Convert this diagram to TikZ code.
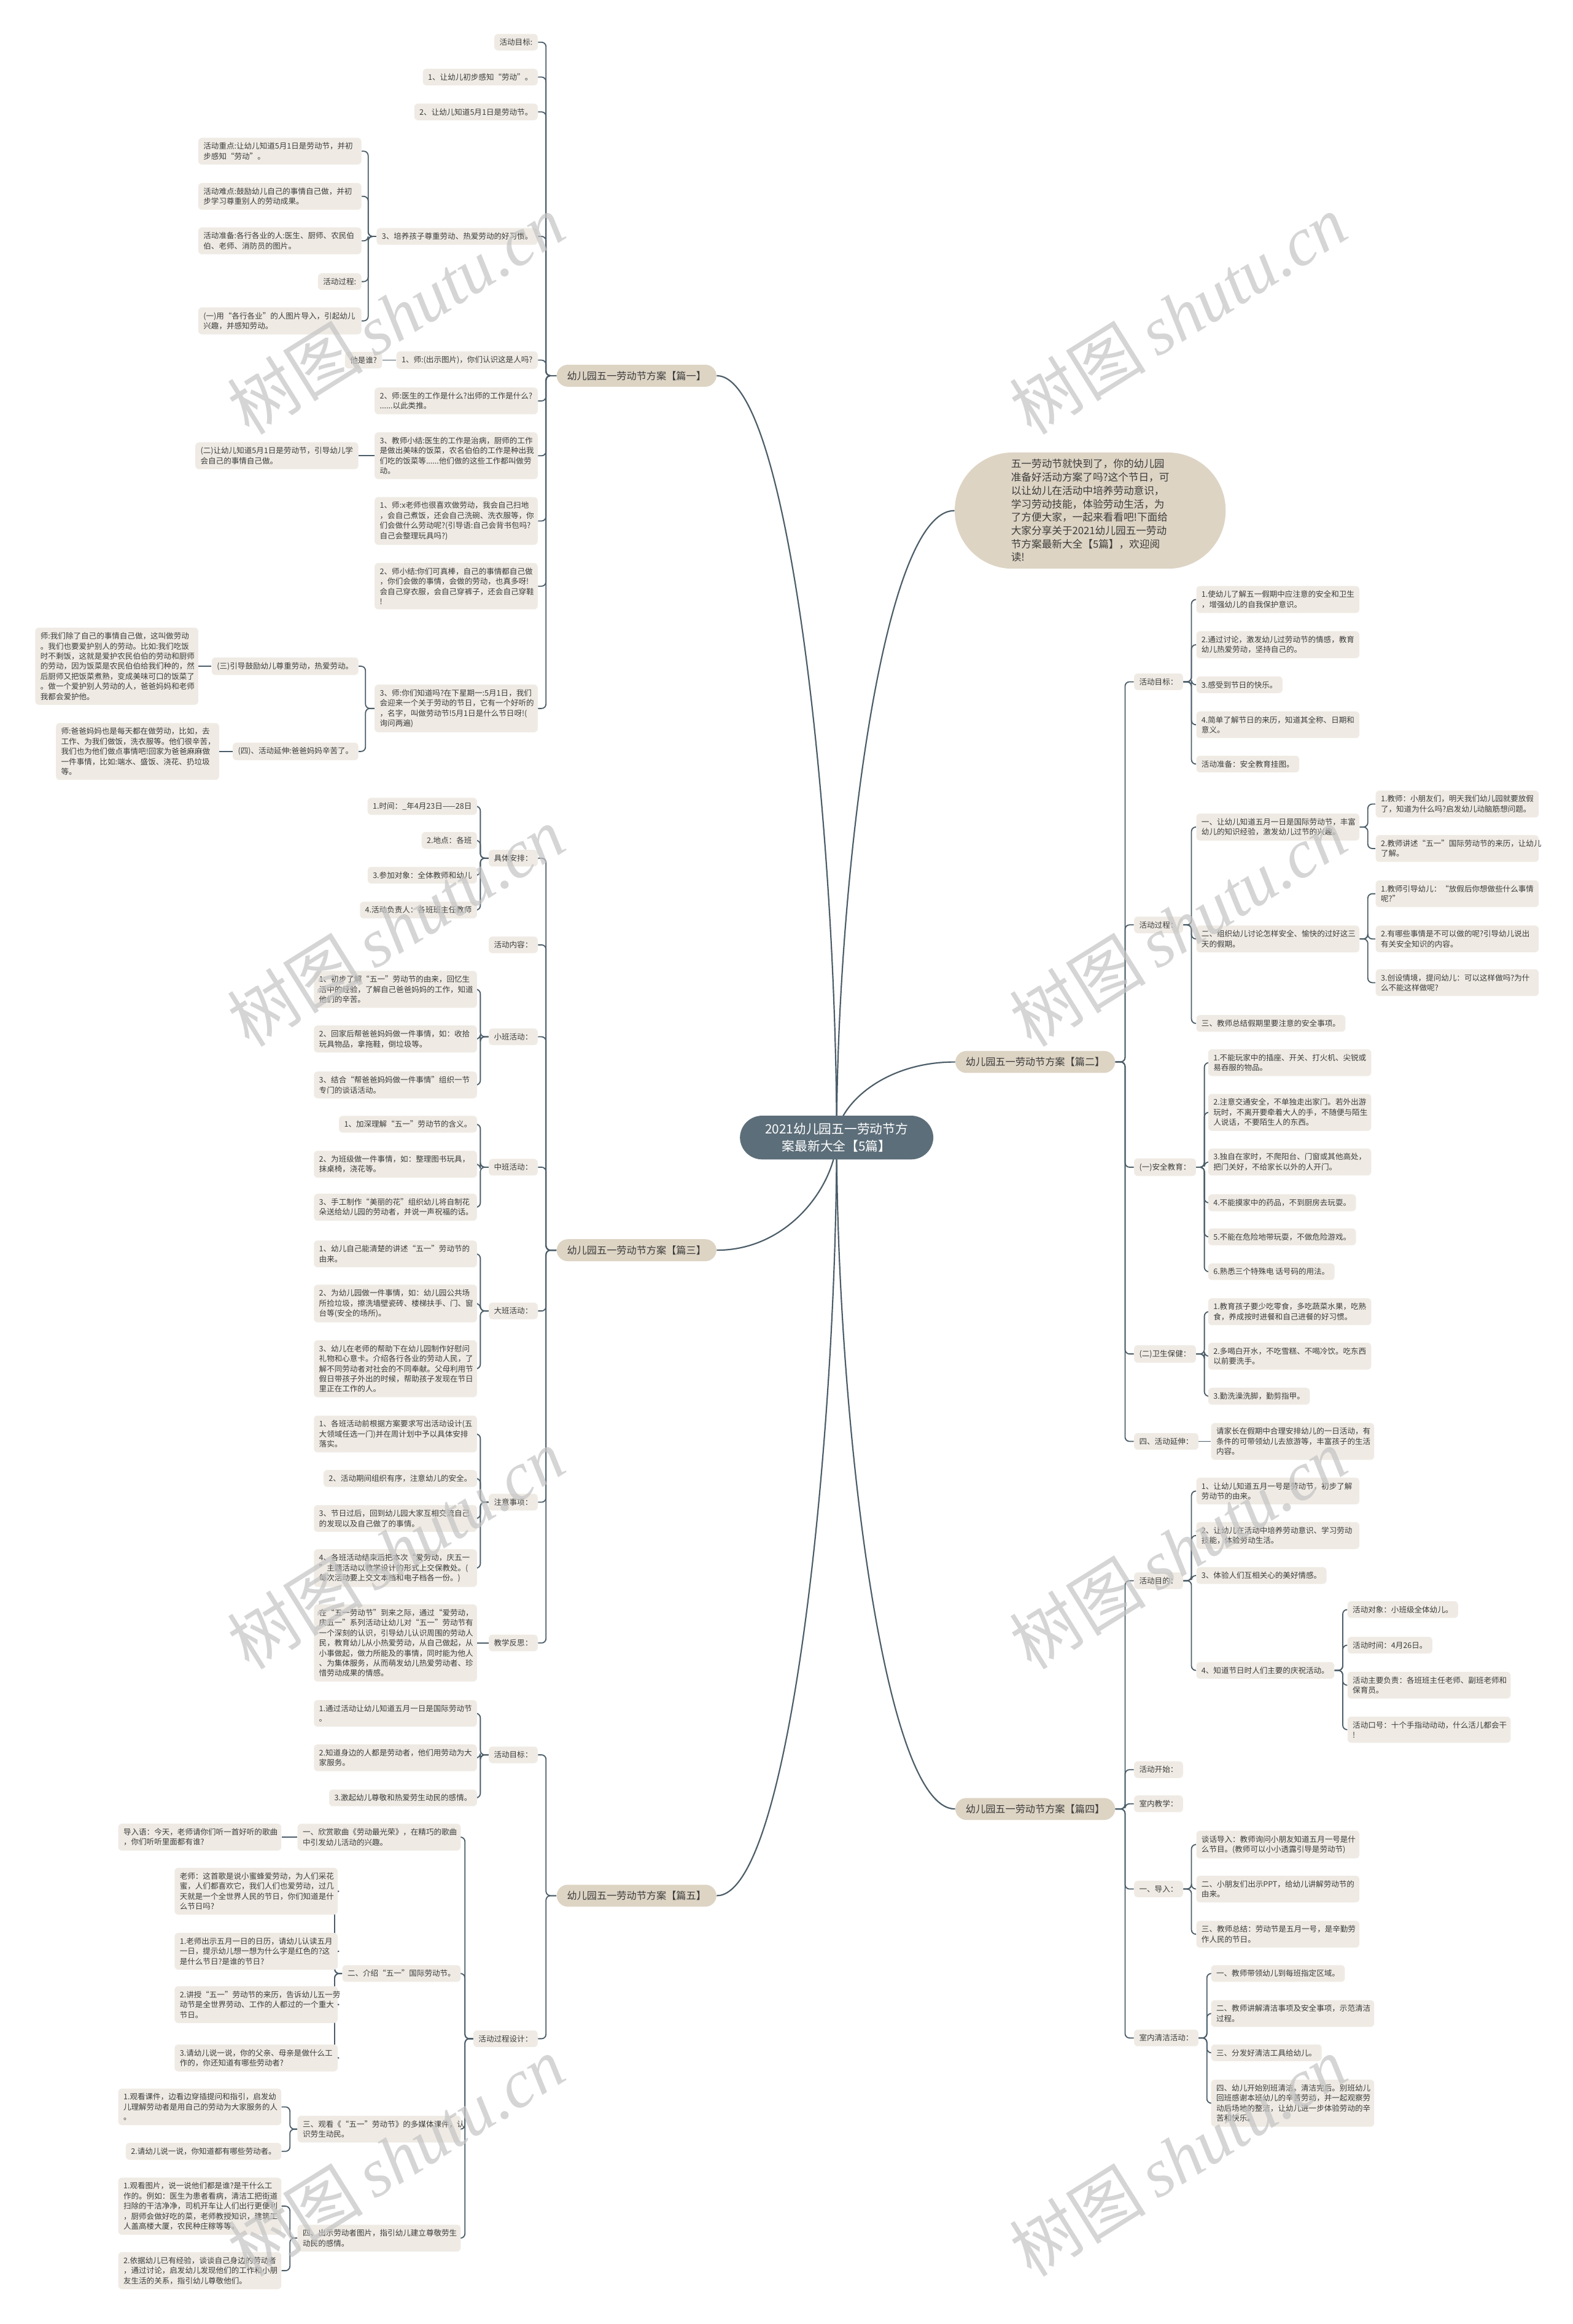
\documentclass[tikz,border=0pt]{standalone}
\usepackage{fontspec}
\setmainfont{Noto Sans CJK SC}
\newfontfamily\wmlat{Liberation Serif}
\usetikzlibrary{backgrounds}
\definecolor{leafc}{HTML}{EFEBE4}
\definecolor{brc}{HTML}{DDD4C4}
\definecolor{rootc}{HTML}{5C6E79}
\definecolor{linec}{HTML}{4B5D68}
\definecolor{txt}{HTML}{3C3C3C}
\definecolor{wmc}{HTML}{C4C4C4}
\newcommand\lkL[3]{\draw[conn] (#1.west) -- ++(-#3,0) |- (#2.east);}
\newcommand\lkR[3]{\draw[conn] (#1.east) -- ++(#3,0) |- (#2.west);}
\newcommand\lkSL[2]{\draw[conn] (#1.west) -- (#2.east);}
\newcommand\lkSR[2]{\draw[conn] (#1.east) -- (#2.west);}
\tikzset{
 leaf/.style={fill=leafc, rounded corners=2.5pt, inner xsep=3.5pt, inner ysep=3.2pt, font=\fontsize{5.2}{6.8}\selectfont, text=txt, align=left},
 ml/.style={text width=103pt},
 lnode/.style={leaf, anchor=east},
 rnode/.style={leaf, anchor=west},
 br/.style={fill=brc, rounded corners=7.5pt, inner xsep=7pt, inner ysep=4.3pt, font=\fontsize{6.7}{8}\selectfont, text=txt},
 conn/.style={draw=linec, line width=0.75pt, rounded corners=3pt},
 rconn/.style={draw=linec, line width=0.9pt},
 wm/.style={text=wmc, opacity=0.7, rotate=32, font=\fontsize{46}{50}\selectfont, inner sep=0pt}
}
\begin{document}
\begin{tikzpicture}[x=1pt,y=-1pt]
\useasboundingbox (0,0) rectangle (1061,1568);
% root and intro
\node[fill=rootc, rounded corners=15pt, text=white, font=\fontsize{8.6}{11.5}\selectfont, align=center, inner xsep=17pt, inner ysep=5pt] (R) at (564.5,767.5) {2021幼儿园五一劳动节方\\案最新大全【5篇】};
\node[fill=brc, rounded corners=39pt, text=txt, font=\fontsize{6.9}{9}\selectfont, align=left, inner xsep=38pt, inner ysep=4.5pt, anchor=west] (I) at (644,344.5) {五一劳动节就快到了，你的幼儿园\\准备好活动方案了吗?这个节日，可\\以让幼儿在活动中培养劳动意识，\\学习劳动技能，体验劳动生活，为\\了方便大家，一起来看看吧!下面给\\大家分享关于2021幼儿园五一劳动\\节方案最新大全【5篇】，欢迎阅\\读!};
% main branches
\node[br] (P1) at (429.5,253.5) {幼儿园五一劳动节方案【篇一】};
\node[br] (P2) at (698.5,716.5) {幼儿园五一劳动节方案【篇二】};
\node[br] (P3) at (429.5,843.5) {幼儿园五一劳动节方案【篇三】};
\node[br] (P4) at (698.5,1220.5) {幼儿园五一劳动节方案【篇四】};
\node[br] (P5) at (429.5,1279) {幼儿园五一劳动节方案【篇五】};
% ---------- 篇一
\node[lnode] (A1) at (363,28.5) {活动目标:};
\node[lnode] (A2) at (363,52) {1、让幼儿初步感知“劳动”。};
\node[lnode] (A3) at (363,75.5) {2、让幼儿知道5月1日是劳动节。};
\node[lnode] (A4) at (363,159.5) {3、培养孩子尊重劳动、热爱劳动的好习惯。};
\node[lnode] (A5) at (363,243) {1、师:(出示图片)，你们认识这是人吗?};
\node[lnode,ml] (A6) at (363,270.5) {2、师:医生的工作是什么?出师的工作是什么?\\......以此类推。};
\node[lnode,ml] (A7) at (363,307.5) {3、教师小结:医生的工作是治病，厨师的工作\\是做出美味的饭菜，农名伯伯的工作是种出我\\们吃的饭菜等......他们做的这些工作都叫做劳\\动。};
\node[lnode,ml] (A8) at (363,351.5) {1、师:x老师也很喜欢做劳动，我会自己扫地\\，会自己煮饭，还会自己洗碗、洗衣服等，你\\们会做什么劳动呢?(引导语:自己会背书包吗?\\自己会整理玩具吗?)};
\node[lnode,ml] (A9) at (363,395.5) {2、师小结:你们可真棒，自己的事情都自己做\\，你们会做的事情，会做的劳动，也真多呀!\\会自己穿衣服，会自己穿裤子，还会自己穿鞋\\!};
\node[lnode,ml] (A10) at (363,478) {3、师:你们知道吗?在下星期一:5月1日，我们\\会迎来一个关于劳动的节日，它有一个好听的\\，名字，叫做劳动节!5月1日是什么节日呀!(\\询问两遍)};
\node[lnode,ml] (A4a) at (244,102) {活动重点:让幼儿知道5月1日是劳动节，并初\\步感知“劳动”。};
\node[lnode,ml] (A4b) at (244,132.5) {活动难点:鼓励幼儿自己的事情自己做，并初\\步学习尊重别人的劳动成果。};
\node[lnode,ml] (A4c) at (244,162.5) {活动准备:各行各业的人:医生、厨师、农民伯\\伯、老师、消防员的图片。};
\node[lnode] (A4d) at (244,190) {活动过程:};
\node[lnode,ml] (A4e) at (244,216.5) {(一)用“各行各业”的人图片导入，引起幼儿\\兴趣，并感知劳动。};
\node[lnode] (A5a) at (258,243) {他是谁?};
\node[lnode,ml] (A7a) at (242,307.5) {(二)让幼儿知道5月1日是劳动节，引导幼儿学\\会自己的事情自己做。};
\node[lnode] (A10a) at (242,449.5) {(三)引导鼓励幼儿尊重劳动，热爱劳动。};
\node[lnode] (A10b) at (242,507) {(四)、活动延伸:爸爸妈妈辛苦了。};
\node[lnode,ml] (A10a1) at (134,449.5) {师:我们除了自己的事情自己做，这叫做劳动\\。我们也要爱护别人的劳动。比如:我们吃饭\\时不剩饭，这就是爱护农民伯伯的劳动和厨师\\的劳动，因为饭菜是农民伯伯给我们种的，然\\后厨师又把饭菜煮熟，变成美味可口的饭菜了\\。做一个爱护别人劳动的人，爸爸妈妈和老师\\我都会爱护他。};
\node[lnode,ml] (A10b1) at (148,507) {师:爸爸妈妈也是每天都在做劳动，比如，去\\工作、为我们做饭，洗衣服等。他们很辛苦，\\我们也为他们做点事情吧!回家为爸爸麻麻做\\一件事情，比如:端水、盛饭、浇花、扔垃圾\\等。};
% ---------- 篇三
\node[lnode] (B1) at (363,579) {具体安排：};
\node[lnode] (B2) at (363,637.5) {活动内容：};
\node[lnode] (B3) at (363,699.5) {小班活动：};
\node[lnode] (B4) at (363,787.5) {中班活动：};
\node[lnode] (B5) at (363,884.5) {大班活动：};
\node[lnode] (B6) at (363,1013.5) {注意事项：};
\node[lnode] (B7) at (363,1108.5) {教学反思：};
\node[lnode] (B1a) at (322,544) {1.时间：\_年4月23日——28日};
\node[lnode] (B1b) at (322,567) {2.地点：各班};
\node[lnode] (B1c) at (322,590.5) {3.参加对象：全体教师和幼儿};
\node[lnode] (B1d) at (322,614) {4.活动负责人：各班班主任教师};
\node[lnode,ml] (B3a) at (322,667.5) {1、初步了解“五一”劳动节的由来，回忆生\\活中的经验，了解自己爸爸妈妈的工作，知道\\他们的辛苦。};
\node[lnode,ml] (B3b) at (322,701) {2、回家后帮爸爸妈妈做一件事情，如：收拾\\玩具物品，拿拖鞋，倒垃圾等。};
\node[lnode,ml] (B3c) at (322,732) {3、结合“帮爸爸妈妈做一件事情”组织一节\\专门的谈话活动。};
\node[lnode] (B4a) at (322,758.5) {1、加深理解“五一”劳动节的含义。};
\node[lnode,ml] (B4b) at (322,785.5) {2、为班级做一件事情，如：整理图书玩具，\\抹桌椅，浇花等。};
\node[lnode,ml] (B4c) at (322,814.5) {3、手工制作“美丽的花”组织幼儿将自制花\\朵送给幼儿园的劳动者，并说一声祝福的话。};
\node[lnode,ml] (B5a) at (322,846) {1、幼儿自己能清楚的讲述“五一”劳动节的\\由来。};
\node[lnode,ml] (B5b) at (322,879.5) {2、为幼儿园做一件事情，如：幼儿园公共场\\所捡垃圾，擦洗墙壁瓷砖、楼梯扶手、门、窗\\台等(安全的场所)。};
\node[lnode,ml] (B5c) at (322,923.5) {3、幼儿在老师的帮助下在幼儿园制作好慰问\\礼物和心意卡。介绍各行各业的劳动人民，了\\解不同劳动者对社会的不同奉献。父母利用节\\假日带孩子外出的时候，帮助孩子发现在节日\\里正在工作的人。};
\node[lnode,ml] (B6a) at (322,967.5) {1、各班活动前根据方案要求写出活动设计(五\\大领域任选一门)并在周计划中予以具体安排\\落实。};
\node[lnode] (B6b) at (322,997.5) {2、活动期间组织有序，注意幼儿的安全。};
\node[lnode,ml] (B6c) at (322,1024.5) {3、节日过后，回到幼儿园大家互相交流自己\\的发现以及自己做了的事情。};
\node[lnode,ml] (B6d) at (322,1058) {4、各班活动结束后把本次“爱劳动，庆五一\\”主题活动以教学设计的形式上交保教处。(\\每次活动要上交文本档和电子档各一份。)};
\node[lnode,ml] (B7a) at (322,1108.5) {在“五一劳动节”到来之际，通过“爱劳动，\\庆五一”系列活动让幼儿对“五一”劳动节有\\一个深刻的认识，引导幼儿认识周围的劳动人\\民，教育幼儿从小热爱劳动，从自己做起，从\\小事做起，做力所能及的事情，同时能为他人\\、为集体服务，从而萌发幼儿热爱劳动者、珍\\惜劳动成果的情感。};
% ---------- 篇五
\node[lnode] (C1) at (363,1184) {活动目标：};
\node[lnode] (C2) at (363,1375.5) {活动过程设计：};
\node[lnode,ml] (C1a) at (322,1156) {1.通过活动让幼儿知道五月一日是国际劳动节\\。};
\node[lnode,ml] (C1b) at (322,1186) {2.知道身边的人都是劳动者，他们用劳动为大\\家服务。};
\node[lnode] (C1c) at (322,1213) {3.激起幼儿尊敬和热爱劳生动民的感情。};
\node[lnode,ml] (C2a) at (311,1239.5) {一、欣赏歌曲《劳动最光荣》，在精巧的歌曲\\中引发幼儿活动的兴趣。};
\node[lnode] (C2b) at (311,1331.5) {二、介绍“五一”国际劳动节。};
\node[lnode,ml] (C2c) at (311,1436.5) {三、观看《“五一”劳动节》的多媒体课件，认\\识劳生动民。};
\node[lnode,ml] (C2d) at (311,1510) {四、出示劳动者图片，指引幼儿建立尊敬劳生\\动民的感情。};
\node[lnode,ml] (C2a1) at (190,1239.5) {导入语：今天，老师请你们听一首好听的歌曲\\，你们听听里面都有谁?};
\node[lnode,ml] (C2b1) at (228,1276) {老师：这首歌是说小蜜蜂爱劳动，为人们采花\\蜜，人们都喜欢它，我们人们也爱劳动，过几\\天就是一个全世界人民的节日，你们知道是什\\么节日吗?};
\node[lnode,ml] (C2b2) at (228,1316.5) {1.老师出示五月一日的日历，请幼儿认读五月\\一日，提示幼儿想一想为什么字是红色的?这\\是什么节日?是谁的节日?};
\node[lnode,ml] (C2b3) at (228,1352.5) {2.讲授“五一”劳动节的来历，告诉幼儿五一劳\\动节是全世界劳动、工作的人都过的一个重大\\节日。};
\node[lnode,ml] (C2b4) at (228,1388.5) {3.请幼儿说一说，你的父亲、母亲是做什么工\\作的，你还知道有哪些劳动者?};
\node[lnode,ml] (C2c1) at (190,1421.5) {1.观看课件，边看边穿插提问和指引，启发幼\\儿理解劳动者是用自己的劳动为大家服务的人\\。};
\node[lnode] (C2c2) at (190,1451.5) {2.请幼儿说一说，你知道都有哪些劳动者。};
\node[lnode,ml] (C2d1) at (190,1488.5) {1.观看图片，说一说他们都是谁?是干什么工\\作的。例如：医生为患者看病，清洁工把街道\\扫除的干洁净净，司机开车让人们出行更便利\\，厨师会做好吃的菜，老师教授知识，建筑工\\人盖高楼大厦，农民种庄稼等等。};
\node[lnode,ml] (C2d2) at (190,1532) {2.依据幼儿已有经验，谈谈自己身边的劳动者\\，通过讨论，启发幼儿发现他们的工作和小朋\\友生活的关系，指引幼儿尊敬他们。};
% ---------- 篇二
\node[rnode] (D1) at (765,460) {活动目标：};
\node[rnode] (D2) at (765,624) {活动过程：};
\node[rnode] (D3) at (765,787.5) {(一)安全教育：};
\node[rnode] (D4) at (765,913.5) {(二)卫生保健：};
\node[rnode] (D5) at (765,972.5) {四、活动延伸：};
\node[rnode,ml] (D1a) at (807,404.5) {1.使幼儿了解五一假期中应注意的安全和卫生\\，增强幼儿的自我保护意识。};
\node[rnode,ml] (D1b) at (807,435) {2.通过讨论，激发幼儿过劳动节的情感，教育\\幼儿热爱劳动，坚持自己的。};
\node[rnode] (D1c) at (807,462) {3.感受到节日的快乐。};
\node[rnode,ml] (D1d) at (807,489) {4.简单了解节日的来历，知道其全称、日期和\\意义。};
\node[rnode] (D1e) at (807,515.5) {活动准备：安全教育挂图。};
\node[rnode,ml] (D2a) at (807,558) {一、让幼儿知道五月一日是国际劳动节，丰富\\幼儿的知识经验，激发幼儿过节的兴趣。};
\node[rnode,ml] (D2b) at (807,633.5) {二、组织幼儿讨论怎样安全、愉快的过好这三\\天的假期。};
\node[rnode] (D2c) at (807,690.5) {三、教师总结假期里要注意的安全事项。};
\node[rnode,ml] (D2a1) at (928,542.5) {1.教师：小朋友们，明天我们幼儿园就要放假\\了，知道为什么吗?启发幼儿动脑筋想问题。};
\node[rnode,ml] (D2a2) at (928,572.5) {2.教师讲述“五一”国际劳动节的来历，让幼儿\\了解。};
\node[rnode,ml] (D2b1) at (928,603) {1.教师引导幼儿：“放假后你想做些什么事情\\呢?”};
\node[rnode,ml] (D2b2) at (928,633.5) {2.有哪些事情是不可以做的呢?引导幼儿说出\\有关安全知识的内容。};
\node[rnode,ml] (D2b3) at (928,663) {3.创设情境，提问幼儿：可以这样做吗?为什\\么不能这样做呢?};
\node[rnode,ml] (D3a) at (815,717) {1.不能玩家中的插座、开关、打火机、尖锐或\\易吞服的物品。};
\node[rnode,ml] (D3b) at (815,750.5) {2.注意交通安全，不单独走出家门。若外出游\\玩时，不离开要牵着大人的手，不随便与陌生\\人说话，不要陌生人的东西。};
\node[rnode,ml] (D3c) at (815,784) {3.独自在家时，不爬阳台、门窗或其他高处，\\把门关好，不给家长以外的人开门。};
\node[rnode] (D3d) at (815,811.5) {4.不能摸家中的药品，不到厨房去玩耍。};
\node[rnode] (D3e) at (815,834.5) {5.不能在危险地带玩耍，不做危险游戏。};
\node[rnode] (D3f) at (815,858) {6.熟悉三个特殊电 话号码的用法。};
\node[rnode,ml] (D4a) at (815,885) {1.教育孩子要少吃零食，多吃蔬菜水果，吃熟\\食，养成按时进餐和自己进餐的好习惯。};
\node[rnode,ml] (D4b) at (815,915) {2.多喝白开水，不吃雪糕、不喝冷饮。吃东西\\以前要洗手。};
\node[rnode] (D4c) at (815,942) {3.勤洗澡洗脚，勤剪指甲。};
\node[rnode,ml] (D5a) at (817,972.5) {请家长在假期中合理安排幼儿的一日活动，有\\条件的可带领幼儿去旅游等，丰富孩子的生活\\内容。};
% ---------- 篇四
\node[rnode] (E1) at (765,1066.5) {活动目的：};
\node[rnode] (E2) at (765,1194) {活动开始：};
\node[rnode] (E3) at (765,1217) {室内教学：};
\node[rnode] (E4) at (765,1274.5) {一、导入：};
\node[rnode] (E5) at (765,1375) {室内清洁活动：};
\node[rnode,ml] (E1a) at (807,1006) {1、让幼儿知道五月一号是劳动节，初步了解\\劳动节的由来。};
\node[rnode,ml] (E1b) at (807,1036) {2、让幼儿在活动中培养劳动意识、学习劳动\\技能，体验劳动生活。};
\node[rnode] (E1c) at (807,1063) {3、体验人们互相关心的美好情感。};
\node[rnode] (E1d) at (807,1127) {4、知道节日时人们主要的庆祝活动。};
\node[rnode] (E1d1) at (909,1086) {活动对象：小班级全体幼儿。};
\node[rnode] (E1d2) at (909,1110) {活动时间：4月26日。};
\node[rnode,ml] (E1d3) at (909,1137) {活动主要负责：各班班主任老师、副班老师和\\保育员。};
\node[rnode,ml] (E1d4) at (909,1167) {活动口号：十个手指动动动，什么活儿都会干\\!};
\node[rnode,ml] (E4a) at (807,1244.5) {谈话导入：教师询问小朋友知道五月一号是什\\么节目。(教师可以小小透露引导是劳动节)};
\node[rnode,ml] (E4b) at (807,1274.5) {二、小朋友们出示PPT，给幼儿讲解劳动节的\\由来。};
\node[rnode,ml] (E4c) at (807,1305) {三、教师总结：劳动节是五月一号，是辛勤劳\\作人民的节日。};
\node[rnode] (E5a) at (817,1331.5) {一、教师带领幼儿到每班指定区域。};
\node[rnode,ml] (E5b) at (817,1358.5) {二、教师讲解清洁事项及安全事项，示范清洁\\过程。};
\node[rnode] (E5c) at (817,1385) {三、分发好清洁工具给幼儿。};
\node[rnode,ml] (E5d) at (817,1419) {四、幼儿开始别班清洁。清洁完后。别班幼儿\\回班感谢本班幼儿的辛苦劳动，并一起观察劳\\动后场地的整洁，让幼儿进一步体验劳动的辛\\苦和快乐。};
% ---------- connectors
\begin{pgfonlayer}{background}
\fill[white] (0,0) rectangle (1061,1568);
\draw[rconn] (R.center) .. controls +(0,-200) and +(50,0) .. (P1.east);
\draw[rconn] (R.center) .. controls +(0,30) and +(50,0) .. (P3.east);
\draw[rconn] (R.center) .. controls +(0,200) and +(50,0) .. (P5.east);
\draw[rconn] (R.center) .. controls +(0,-165) and +(-50,0) .. (I.west);
\draw[rconn] (R.center) .. controls +(0,-20) and +(-50,0) .. (P2.west);
\draw[rconn] (R.center) .. controls +(0,177) and +(-50,0) .. (P4.west);
% 篇一
\foreach \c in {A1,A2,A3,A4,A5,A6,A7,A8,A9,A10} {\lkL{P1}{\c}{7}}
\foreach \c in {A4a,A4b,A4c,A4d,A4e} {\lkL{A4}{\c}{5.5}}
\lkSL{A5}{A5a}
\lkSL{A7}{A7a}
\foreach \c in {A10a,A10b} {\lkL{A10}{\c}{6}}
\lkSL{A10a}{A10a1}
\lkSL{A10b}{A10b1}
% 篇三
\foreach \c in {B1,B2,B3,B4,B5,B6,B7} {\lkL{P3}{\c}{7}}
\foreach \c in {B1a,B1b,B1c,B1d} {\lkL{B1}{\c}{5.5}}
\foreach \c in {B3a,B3b,B3c} {\lkL{B3}{\c}{5.5}}
\foreach \c in {B4a,B4b,B4c} {\lkL{B4}{\c}{5.5}}
\foreach \c in {B5a,B5b,B5c} {\lkL{B5}{\c}{5.5}}
\foreach \c in {B6a,B6b,B6c,B6d} {\lkL{B6}{\c}{5.5}}
\lkSL{B7}{B7a}
% 篇五
\foreach \c in {C1,C2} {\lkL{P5}{\c}{7}}
\foreach \c in {C1a,C1b,C1c} {\lkL{C1}{\c}{5.5}}
\foreach \c in {C2a,C2b,C2c,C2d} {\lkL{C2}{\c}{5.5}}
\lkSL{C2a}{C2a1}
\foreach \c in {C2b1,C2b2,C2b3,C2b4} {\lkL{C2b}{\c}{5}}
\foreach \c in {C2c1,C2c2} {\lkL{C2c}{\c}{5}}
\foreach \c in {C2d1,C2d2} {\lkL{C2d}{\c}{5}}
% 篇二
\foreach \c in {D1,D2,D3,D4,D5} {\lkR{P2}{\c}{6.5}}
\foreach \c in {D1a,D1b,D1c,D1d,D1e} {\lkR{D1}{\c}{5.5}}
\foreach \c in {D2a,D2b,D2c} {\lkR{D2}{\c}{5.5}}
\foreach \c in {D2a1,D2a2} {\lkR{D2a}{\c}{5.5}}
\foreach \c in {D2b1,D2b2,D2b3} {\lkR{D2b}{\c}{5.5}}
\foreach \c in {D3a,D3b,D3c,D3d,D3e,D3f} {\lkR{D3}{\c}{5.5}}
\foreach \c in {D4a,D4b,D4c} {\lkR{D4}{\c}{5.5}}
\lkSR{D5}{D5a}
% 篇四
\foreach \c in {E1,E2,E3,E4,E5} {\lkR{P4}{\c}{6.5}}
\foreach \c in {E1a,E1b,E1c,E1d} {\lkR{E1}{\c}{5.5}}
\foreach \c in {E1d1,E1d2,E1d3,E1d4} {\lkR{E1d}{\c}{5.5}}
\foreach \c in {E4a,E4b,E4c} {\lkR{E4}{\c}{5.5}}
\foreach \c in {E5a,E5b,E5c,E5d} {\lkR{E5}{\c}{5.5}}
\end{pgfonlayer}
% ---------- watermarks
\foreach \wx/\wy [count=\i] in {267/212,795/212,267/625,795/625,267/1045,795/1045,267/1455,795/1455}
  {\node[wm] (W\i) at (\wx,\wy) {树图\hspace{8pt}{\wmlat\itshape shutu.cn}};}
\end{tikzpicture}
\end{document}
